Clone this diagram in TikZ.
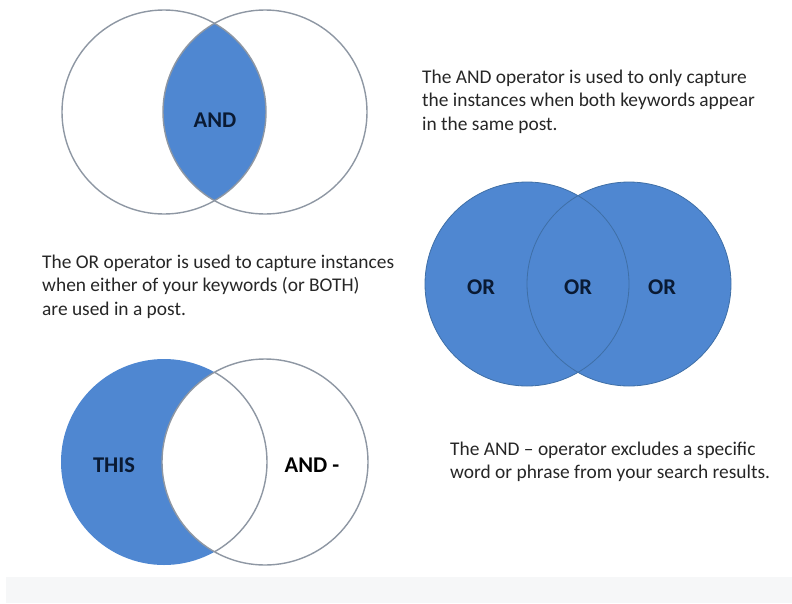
\documentclass[tikz,border=0pt]{standalone}
\usepackage{fontspec}
\setmainfont{Carlito}
\definecolor{vennblue}{HTML}{4F87D1}
\definecolor{ringgray}{HTML}{8E97A3}
\definecolor{ringblue}{HTML}{3F6FA6}
\definecolor{labelnavy}{HTML}{0A1A33}
\definecolor{bandgray}{HTML}{F6F7F8}
\tikzset{
  ring/.style={draw=ringgray, line width=1.4pt},
  setname/.style={font=\fontsize{22.5}{24}\selectfont\bfseries, text=labelnavy},
  note/.style={align=left, anchor=base west, inner sep=0pt,
    font=\fontsize{19.4}{23.5}\selectfont, text=black!85}
}
\begin{document}
\begin{tikzpicture}[x=1pt,y=-1pt]
\useasboundingbox (0,0) rectangle (792,603);
\fill[bandgray] (6,577) rectangle (792,603);

% AND diagram
\coordinate (a1) at (164,112);
\coordinate (a2) at (265,112);
\begin{scope}
\clip (a1) circle (102pt);
\fill[vennblue] (a2) circle (102pt);
\end{scope}
\draw[ring] (a1) circle (102pt);
\draw[ring] (a2) circle (102pt);
\node[setname] (andtag) at (215,120) {AND};

% OR diagram
\coordinate (o1) at (527,284);
\coordinate (o2) at (629,284);
\fill[vennblue] (o1) circle (102pt);
\fill[vennblue] (o2) circle (102pt);
\draw[ringblue, line width=0.8pt] (o1) circle (102pt);
\draw[ringblue, line width=0.8pt] (o2) circle (102pt);
\node[setname] (orleft) at (481,287) {OR};
\node[setname] (ormid) at (578,287) {OR};
\node[setname] (orright) at (662,287) {OR};

% AND - diagram
\coordinate (n1) at (164,462);
\coordinate (n2) at (265,462);
\fill[vennblue] (n1) circle (103pt);
\fill[white] (n2) circle (103pt);
\draw[ring] (n2) circle (103pt);
\begin{scope}
\clip (n2) circle (103pt);
\draw[ring] (n1) circle (103pt);
\end{scope}
\node[setname] (thistag) at (114,465) {THIS};
\node[setname, text=black] (nottag) at (312,465) {AND -};

% notes (anchored at the baseline of the last line)
\node[note] (andnote) at (422,130) {The AND operator is used to only capture\\the instances when both keywords appear\\in the same post.};
\node[note] (ornote) at (42,315) {The OR operator is used to capture instances\\when either of your keywords (or BOTH)\\are used in a post.};
\node[note] (notnote) at (450,478.5) {The AND -- operator excludes a specific\\word or phrase from your search results.};
\end{tikzpicture}
\end{document}
